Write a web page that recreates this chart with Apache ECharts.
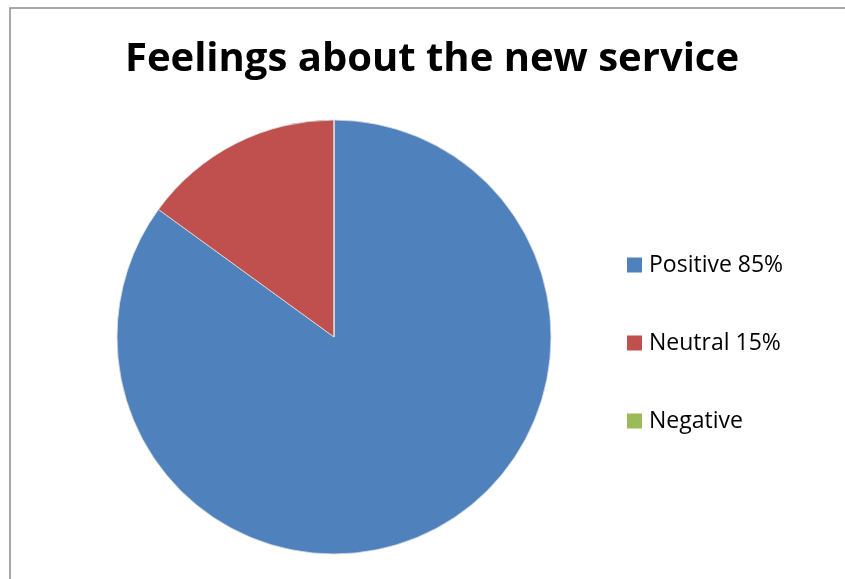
<!DOCTYPE html>
<html><head><meta charset="utf-8">
<script src="https://cdn.jsdelivr.net/npm/echarts@6/dist/echarts.min.js"></script>
<style>html,body{margin:0;padding:0;background:#fff;}#c{width:845px;height:579px;}</style>
</head><body><div id="c"></div>
<script>
var categories = ['Positive 85%', 'Neutral 15%', 'Negative'];
var values = [85, 15, 0];
var colors = ['#4F81BD', '#C0504D', '#9BBB59'];
var titleText = 'Feelings about the new service';

var chart = echarts.init(document.getElementById('c'));
chart.setOption({
  animation: false,
  backgroundColor: '#ffffff',
  color: colors,
  title: {
    text: titleText,
    left: 432, top: 40, textAlign: 'center', padding: 0,
    textStyle: {fontFamily: 'Open Sans', fontWeight: 'bold', fontSize: 40, color: '#000'}
  },
  legend: {
    orient: 'vertical', left: 627, top: 253, padding: 0,
    itemWidth: 15, itemHeight: 15, itemGap: 54, icon: 'rect',
    itemStyle: {borderWidth: 0},
    textStyle: {fontFamily: 'Open Sans', fontSize: 23, color: '#000', lineHeight: 24, padding: [0,0,0,2]},
    data: categories
  },
  graphic: [{
    type: 'rect', shape: {x: 10, y: 8, width: 1000, height: 800},
    style: {fill: 'none', stroke: '#8c8c8c', lineWidth: 1.5}, silent: true
  }],
  series: [{
    type: 'pie', center: [334, 337], radius: 217, startAngle: 90, clockwise: true,
    label: {show: false}, labelLine: {show: false},
    itemStyle: {borderColor: '#e0e0e0', borderWidth: 0.8},
    emphasis: {disabled: true},
    data: categories.map(function (c, i) { return {name: c, value: values[i]}; })
  }]
});
</script></body></html>
